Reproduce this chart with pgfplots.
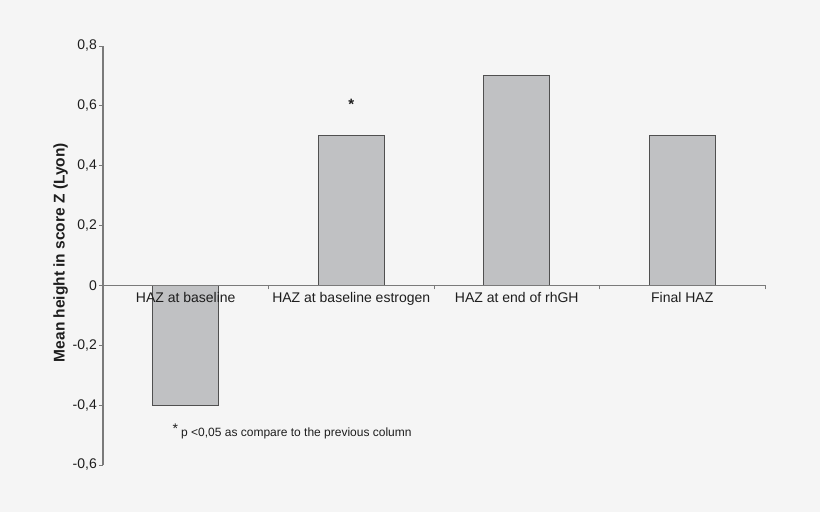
\documentclass[border=0pt]{standalone}
\usepackage{pgfplots}
\pgfplotsset{compat=1.18}
\usepackage{fontspec}
\setmainfont{Liberation Sans}
\definecolor{bg}{HTML}{F5F5F5}
\definecolor{barfill}{HTML}{C0C1C3}
\definecolor{baredge}{HTML}{505050}
\definecolor{axgray}{HTML}{7A7A7A}
\definecolor{txt}{HTML}{1E1E1E}
\begin{document}
\begin{tikzpicture}
\fill[bg] (0,0) rectangle (820bp,512bp);
\begin{axis}[
  at={(103bp,47bp)}, anchor=south west,
  scale only axis, width=662bp, height=419bp,
  xmin=0.5, xmax=4.5, ymin=-0.6, ymax=0.8,
  axis on top,
  axis y line=left, axis x line=middle,
  axis line style={draw=axgray, line width=1.2pt, -},
  x axis line style={line width=0.9pt},
  xtick={1,2,3,4},
  xticklabels={HAZ at baseline,HAZ at baseline estrogen,HAZ at end of rhGH,Final HAZ},
  minor xtick={1.5,2.5,3.5,4.5},
  major x tick style={draw=none},
  minor x tick style={draw=axgray, line width=0.8pt},
  xtick align=outside, ytick align=outside,
  minor tick length=4bp, major tick length=4bp,
  ytick={-0.6,-0.4,-0.2,0,0.2,0.4,0.6,0.8},
  yticklabels={{-0,6},{-0,4},{-0,2},{0},{0,2},{0,4},{0,6},{0,8}},
  y tick style={draw=axgray, line width=0.8pt},
  tick label style={font=\fontsize{14bp}{16bp}\selectfont, text=txt},
  xticklabel style={inner sep=3bp},
  yticklabel style={inner sep=2bp},
  ylabel={Mean height in score Z (Lyon)},
  every axis y label/.style={at={(axis description cs:-0.064,0.507)}, rotate=90, anchor=center, font=\fontsize{15.5bp}{18bp}\selectfont\bfseries, text=txt},
  clip=false,
]
\addplot[ybar, bar width=66bp, fill=barfill, draw=baredge, line width=0.9pt]
  coordinates {(1,-0.4) (2,0.5) (3,0.7) (4,0.5)};
\node[font=\fontsize{15bp}{16bp}\selectfont\bfseries, text=txt] at (axis cs:2,0.605) {*};
\node[anchor=west, font=\fontsize{12bp}{13bp}\selectfont, text=txt, inner sep=0pt] at (axis cs:0.92,-0.488) {\raisebox{0.3em}{\fontsize{14bp}{14bp}\selectfont *}\hspace{3bp}p <0,05 as compare to the previous column};
\end{axis}
\end{tikzpicture}
\end{document}
